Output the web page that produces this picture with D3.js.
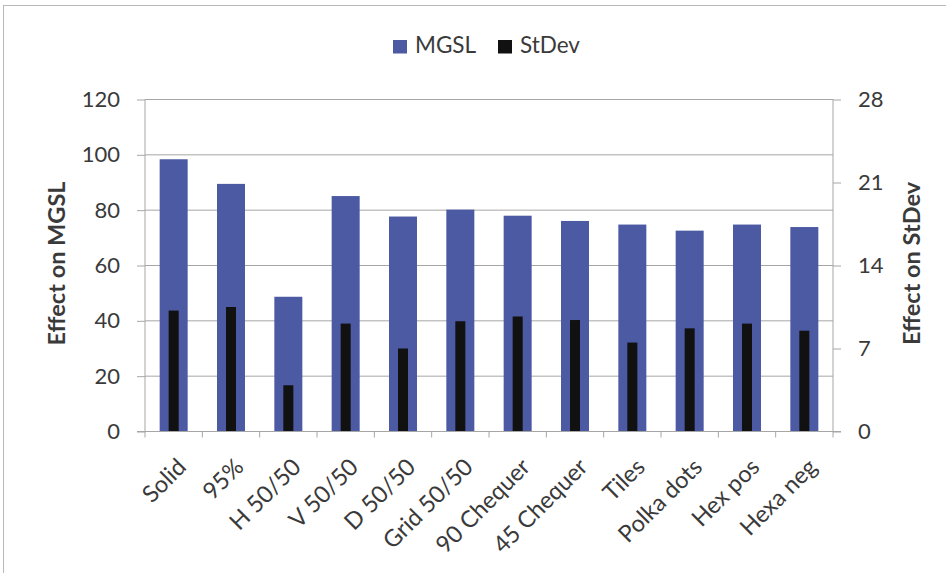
<!DOCTYPE html>
<html>
<head>
<meta charset="utf-8">
<script src="https://cdn.jsdelivr.net/npm/d3@7"></script>
<style>
  html, body { margin: 0; padding: 0; background: #fff; }
  svg { display: block; font-family: Lato, "Open Sans", sans-serif; }
</style>
</head>
<body>
<svg id="chart" width="946" height="573"></svg>
<script>
// Pattern categories
const categories = ["Solid", "95%", "H 50/50", "V 50/50", "D 50/50", "Grid 50/50",
  "90 Chequer", "45 Chequer", "Tiles", "Polka dots", "Hex pos", "Hexa neg"];
// Effect on MGSL (left axis)
const mgsl = [98.4, 89.5, 48.7, 85.1, 77.7, 80.2, 78.0, 76.1, 74.8, 72.6, 74.8, 73.9];
// Effect on StDev (right axis)
const stdev = [10.2, 10.5, 3.9, 9.1, 7.0, 9.3, 9.7, 9.4, 7.5, 8.7, 9.1, 8.5];
// Axis ticks
const leftTicks = [0, 20, 40, 60, 80, 100, 120];
const rightTicks = [0, 7, 14, 21, 28];
const seriesNames = ["MGSL", "StDev"];

const BLUE = "#4b5aa3";
const BLACK = "#111111";
const GRID = "#a6a6a6";
const TEXT = "#3a3a3a";

const svg = d3.select("#chart");
const m = { left: 145, right: 833, top: 99.5, bottom: 431.5 };

// chart frame
svg.append("rect").attr("x", 3.5).attr("y", 5.5).attr("width", 960).attr("height", 600)
  .attr("fill", "#fff").attr("stroke", "#b8b8b8").attr("stroke-width", 1);

const x = d3.scaleBand().domain(categories).range([m.left, m.right]).paddingInner(0).paddingOuter(0);
const yL = d3.scaleLinear().domain([0, 120]).range([m.bottom, m.top]);
const yR = d3.scaleLinear().domain([0, 28]).range([m.bottom, m.top]);

// gridlines
svg.append("g").selectAll("line").data(leftTicks.filter(d => d > 0)).join("line")
  .attr("x1", m.left).attr("x2", m.right)
  .attr("y1", d => yL(d)).attr("y2", d => yL(d))
  .attr("stroke", GRID).attr("stroke-width", 1);

// left and right value axes
const gL = svg.append("g").attr("transform", `translate(${m.left},0)`)
  .call(d3.axisLeft(yL).tickValues(leftTicks).tickSize(8).tickPadding(17));
const gR = svg.append("g").attr("transform", `translate(${m.right},0)`)
  .call(d3.axisRight(yR).tickValues(rightTicks).tickSize(8).tickPadding(17));
[gL, gR].forEach(g => {
  g.select(".domain").attr("stroke", GRID).attr("d", `M0,${m.top}V${m.bottom}`);
  g.selectAll(".tick line").attr("stroke", GRID);
  g.selectAll(".tick text").attr("fill", TEXT).attr("font-size", 22)
    .attr("font-family", "Lato, 'Open Sans', sans-serif");
});

// bars: MGSL (wide) and StDev (narrow, on the right axis)
const bw = x.bandwidth();
svg.append("g").selectAll("rect").data(categories).join("rect")
  .attr("x", d => x(d) + bw / 2 - 14).attr("width", 28)
  .attr("y", (d, i) => yL(mgsl[i])).attr("height", (d, i) => yL(0) - yL(mgsl[i]))
  .attr("fill", BLUE);
svg.append("g").selectAll("rect").data(categories).join("rect")
  .attr("x", d => x(d) + bw / 2 - 5).attr("width", 10)
  .attr("y", (d, i) => yR(stdev[i])).attr("height", (d, i) => yR(0) - yR(stdev[i]))
  .attr("fill", BLACK);

// category axis
const gB = svg.append("g").attr("transform", `translate(0,${m.bottom})`);
gB.append("line").attr("x1", m.left - 8).attr("x2", m.right + 8)
  .attr("stroke", GRID);
gB.selectAll("line.tk").data(d3.range(categories.length + 1)).join("line")
  .attr("class", "tk")
  .attr("x1", i => m.left + i * bw).attr("x2", i => m.left + i * bw)
  .attr("y1", 0).attr("y2", 6).attr("stroke", GRID);
gB.selectAll("text").data(categories).join("text")
  .attr("transform", d => `translate(${x(d) + bw / 2 + 14},${37}) rotate(-45)`)
  .attr("text-anchor", "end")
  .attr("fill", TEXT).attr("font-size", 23.5)
  .text(d => d);

// axis titles
svg.append("text")
  .attr("transform", `translate(65,263.5) rotate(-90)`)
  .attr("text-anchor", "middle").attr("font-weight", "bold").attr("font-size", 23.5)
  .attr("fill", TEXT).text("Effect on MGSL");
svg.append("text")
  .attr("transform", `translate(920,263.5) rotate(-90)`)
  .attr("text-anchor", "middle").attr("font-weight", "bold").attr("font-size", 23.5)
  .attr("fill", TEXT).text("Effect on StDev");

// legend
const legend = svg.append("g").attr("transform", "translate(393,40)");
const lx = [0, 105];
const lcol = [BLUE, BLACK];
seriesNames.forEach((s, i) => {
  legend.append("rect").attr("x", lx[i]).attr("y", 0).attr("width", 14).attr("height", 13.5)
    .attr("fill", lcol[i]);
  legend.append("text").attr("x", lx[i] + 22).attr("y", 12.5)
    .attr("font-size", 22.5).attr("fill", TEXT).text(s);
});
</script>
</body>
</html>
